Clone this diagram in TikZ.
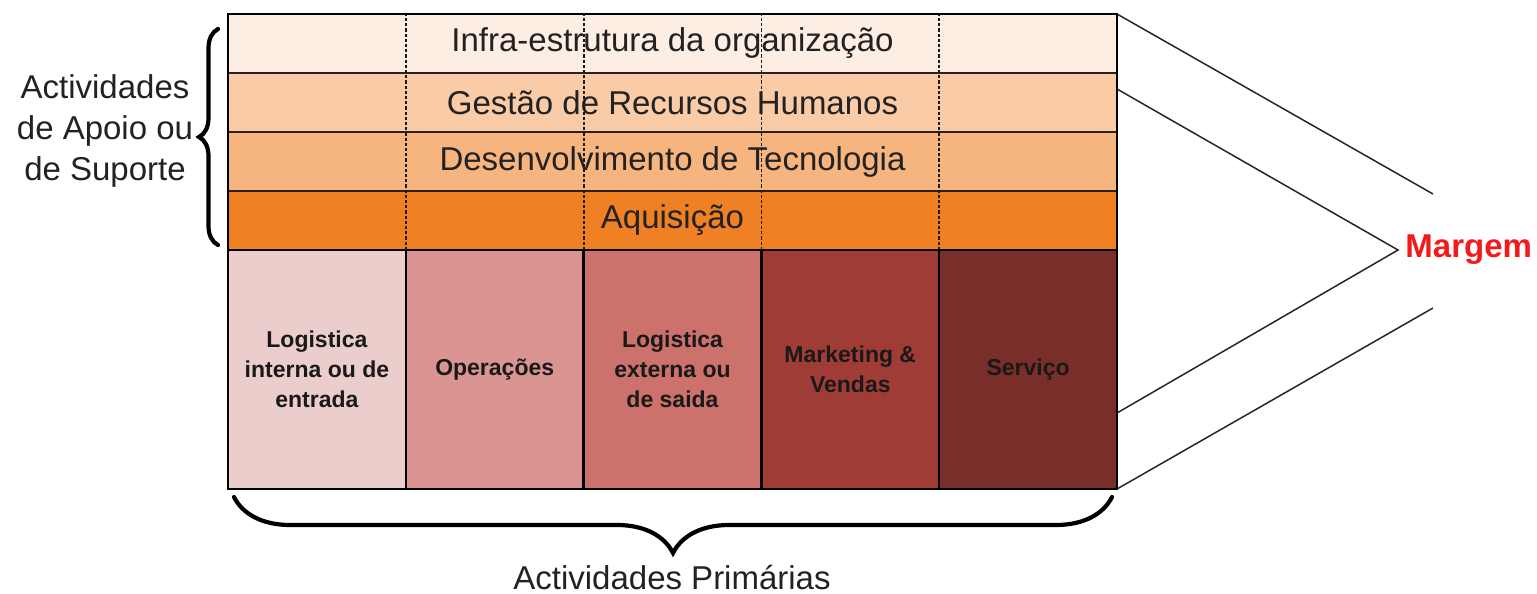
\documentclass[tikz,border=0pt]{standalone}
\usepackage{fontspec}
\setmainfont{Liberation Sans}
\usetikzlibrary{decorations.pathreplacing}
\definecolor{rowA}{HTML}{FCEEE3}
\definecolor{rowB}{HTML}{F9CBA7}
\definecolor{rowC}{HTML}{F6B47E}
\definecolor{rowD}{HTML}{F08024}
\definecolor{colA}{HTML}{EBCDCB}
\definecolor{colB}{HTML}{DA9592}
\definecolor{colC}{HTML}{CC716B}
\definecolor{colD}{HTML}{A03C36}
\definecolor{colE}{HTML}{792E2A}
\definecolor{txt}{HTML}{222222}
\definecolor{rowline}{HTML}{2E2018}
\definecolor{margemred}{HTML}{F21A1A}
\begin{document}
\begin{tikzpicture}[x=0.5pt,y=-0.5pt,
  supportrow/.style={draw=rowline,line width=1.3pt,minimum width=444.5pt,minimum height=29.5pt,inner sep=0pt,outer sep=0pt,anchor=north west,font=\fontsize{16.5}{19}\selectfont,text=txt},
  primcell/.style={draw=black,line width=1.2pt,minimum width=88.9pt,minimum height=119.5pt,inner sep=0pt,outer sep=0pt,anchor=north west,align=center,font=\bfseries\fontsize{11.5}{15}\selectfont,text=black!90},
  sepline/.style={black!90,line width=0.9pt,dash pattern=on 1.6pt off 1pt},
  margemline/.style={black!85,line width=0.75pt},
  bracestyle/.style={decorate,line width=2.1pt,line cap=round},
  label/.style={font=\fontsize{16.5}{20.5}\selectfont,text=txt,align=center}]
\useasboundingbox (0,0) rectangle (1537,594);
% support rows
\node[supportrow,fill=rowA] (r1) at (228,14) {Infra-estrutura da organização};
\node[supportrow,fill=rowB] (r2) at (228,73) {Gestão de Recursos Humanos};
\node[supportrow,fill=rowC] (r3) at (228,132) {Desenvolvimento de Tecnologia};
\node[supportrow,fill=rowD] (r4) at (228,191) {Aquisição};
% primary cells
\node[primcell,fill=colA] (p1) at (228,250) {Logistica\\interna ou de\\entrada};
\node[primcell,fill=colB] (p2) at (405.8,250) {Operações};
\node[primcell,fill=colC] (p3) at (583.6,250) {Logistica\\externa ou\\de saida};
\node[primcell,fill=colD] (p4) at (761.4,250) {Marketing \&\\Vendas};
\node[primcell,fill=colE] (p5) at (939.2,250) {Serviço};
% dashed separators in the support rows
\draw[sepline] (p2.north west) -- (p2.north west |- r1.north);
\draw[sepline] (p3.north west) -- (p3.north west |- r1.north);
\draw[sepline] (p4.north west) -- (p4.north west |- r1.north);
\draw[sepline] (p5.north west) -- (p5.north west |- r1.north);
% outer frame
\draw[black,line width=1.2pt] (r1.north west) rectangle (p5.south east);
% margin lines
\coordinate (apex) at (1398,250);
\coordinate (topend) at (1433,194);
\coordinate (botend) at (1433,308);
\coordinate (s2) at (1117,89);
\coordinate (s3) at (1117,413);
\draw[margemline] (r1.north east) -- (topend);
\draw[margemline] (s2) -- (apex) -- (s3);
\draw[margemline] (p5.south east) -- (botend);
\node[anchor=west,font=\bfseries\fontsize{16.5}{19}\selectfont,text=margemred,inner sep=0pt] (margem) at (1405,250) {Margem};
% braces
\draw[bracestyle,decoration={brace,amplitude=9.5pt}] (218,245) -- (218,29);
\node[label] (apoio) at (105,131) {Actividades\\de Apoio ou\\de Suporte};
\draw[bracestyle,decoration={brace,amplitude=28pt,aspect=0.5}] (1112,497) -- (234,497);
\node[label,anchor=center] (prim) at (672,578) {Actividades Primárias};
\end{tikzpicture}
\end{document}
